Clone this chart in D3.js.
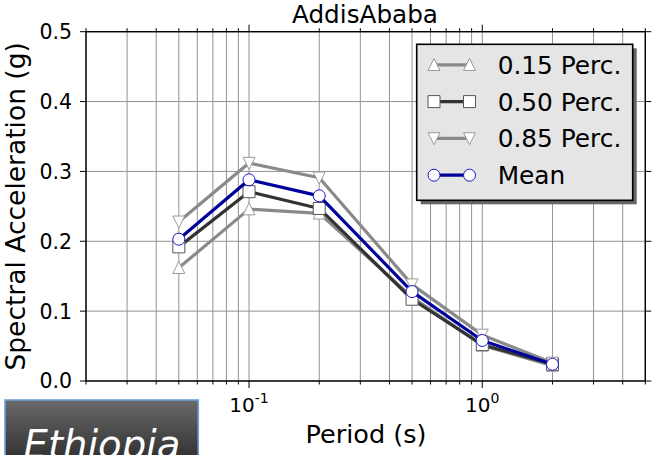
<!DOCTYPE html>
<html>
<head>
<meta charset="utf-8">
<script src="https://cdn.jsdelivr.net/npm/d3@7"></script>
<style>
  html, body { margin: 0; padding: 0; background: #fff; }
  svg { display: block; }
  text { font-family: "DejaVu Sans", sans-serif; }
</style>
</head>
<body>
<svg id="chart" width="652" height="455"></svg>
<script>
// ---- data ----
const title = "AddisAbaba";
const xLabel = "Period (s)";
const yLabel = "Spectral Acceleration (g)";
const periods = [0.05, 0.1, 0.2, 0.5, 1.0, 2.0];
const perc15 = [0.162, 0.246, 0.240, 0.120, 0.051, 0.022];
const perc50 = [0.192, 0.271, 0.247, 0.117, 0.052, 0.024];
const perc85 = [0.228, 0.312, 0.291, 0.138, 0.066, 0.026];
const meanVals = [0.203, 0.288, 0.265, 0.128, 0.058, 0.024];
const seriesNames = ["0.15 Perc.", "0.50 Perc.", "0.85 Perc.", "Mean"];
const yTicks = [0.0, 0.1, 0.2, 0.3, 0.4, 0.5];
const yTickLabels = ["0.0", "0.1", "0.2", "0.3", "0.4", "0.5"];
const xMajorTicks = [0.1, 1];
const xMajorExp = ["-1", "0"];
const xMinorTicks = [0.02, 0.03, 0.04, 0.05, 0.06, 0.07, 0.08, 0.09, 0.2, 0.3, 0.4, 0.5, 0.6, 0.7, 0.8, 0.9, 2, 3, 4, 5];
const badgeText = "Ethiopia";

// ---- layout ----
const svg = d3.select("#chart");
const L = 86, R = 645.3, T = 31.7, B = 381;
const x = d3.scaleLog().domain([0.02, 5]).range([L, R]);
const y = d3.scaleLinear().domain([0, 0.5]).range([B, T]);

const series = [
  { name: seriesNames[0], vals: perc15, line: "#8a8a8a", edge: "#9a9a9a", marker: "up" },
  { name: seriesNames[1], vals: perc50, line: "#333333", edge: "#555555", marker: "square" },
  { name: seriesNames[2], vals: perc85, line: "#8a8a8a", edge: "#9a9a9a", marker: "down" },
  { name: seriesNames[3], vals: meanVals, line: "#00009a", edge: "#1a1acc", marker: "circle" }
];

// gridlines
const gridColor = "#929292";
const g = svg.append("g");
g.selectAll("line.xg").data(xMajorTicks.concat(xMinorTicks)).enter().append("line")
  .attr("x1", d => x(d)).attr("x2", d => x(d)).attr("y1", T).attr("y2", B)
  .attr("stroke", gridColor).attr("stroke-width", 1);
g.selectAll("line.yg").data(yTicks).enter().append("line")
  .attr("x1", L).attr("x2", R).attr("y1", d => y(d)).attr("y2", d => y(d))
  .attr("stroke", gridColor).attr("stroke-width", 1);

// marker drawing
function markerPath(type, s) {
  const h = s / 2;
  if (type === "up") return `M0,${-h*1.05} L${h},${h*0.95} L${-h},${h*0.95} Z`;
  if (type === "down") return `M0,${h*1.05} L${h},${-h*0.95} L${-h},${-h*0.95} Z`;
  if (type === "square") return `M${-h},${-h} H${h} V${h} H${-h} Z`;
  return null;
}
function drawMarker(sel, type, cx, cy, size, edge) {
  if (type === "circle") {
    sel.append("circle").attr("cx", cx).attr("cy", cy).attr("r", size / 2)
      .attr("fill", "#fff").attr("stroke", edge).attr("stroke-width", 1);
  } else {
    sel.append("path").attr("d", markerPath(type, size))
      .attr("transform", `translate(${cx},${cy})`)
      .attr("fill", "#fff").attr("stroke", edge).attr("stroke-width", 1);
  }
}

// series
const plot = svg.append("g");
const line = d3.line().x(d => x(d[0])).y(d => y(d[1]));
series.forEach(s => {
  const pts = periods.map((p, i) => [p, s.vals[i]]);
  plot.append("path").attr("d", line(pts)).attr("fill", "none")
    .attr("stroke", s.line).attr("stroke-width", 3.2).attr("stroke-linejoin", "round");
  pts.forEach(p => drawMarker(plot, s.marker, x(p[0]), y(p[1]), 12, s.edge));
});

// frame
svg.append("rect").attr("x", L).attr("y", T).attr("width", R - L).attr("height", B - T)
  .attr("fill", "none").attr("stroke", "#000").attr("stroke-width", 1.4);

// ticks
const tk = svg.append("g").attr("stroke", "#000").attr("stroke-width", 1);
xMajorTicks.forEach(d => {
  tk.append("line").attr("x1", x(d)).attr("x2", x(d)).attr("y1", B).attr("y2", B + 7);
  tk.append("line").attr("x1", x(d)).attr("x2", x(d)).attr("y1", T).attr("y2", T - 7);
});
xMinorTicks.forEach(d => {
  tk.append("line").attr("x1", x(d)).attr("x2", x(d)).attr("y1", B).attr("y2", B + 3.5);
  tk.append("line").attr("x1", x(d)).attr("x2", x(d)).attr("y1", T).attr("y2", T - 3.5);
});
yTicks.forEach(d => {
  tk.append("line").attr("x1", L).attr("x2", L - 6).attr("y1", y(d)).attr("y2", y(d));
  tk.append("line").attr("x1", R).attr("x2", R + 6).attr("y1", y(d)).attr("y2", y(d));
});

// tick labels
svg.selectAll("text.yt").data(yTicks).enter().append("text")
  .attr("x", 72).attr("y", d => y(d)).attr("dy", "0.36em")
  .attr("text-anchor", "end").attr("font-size", 20.5).attr("fill", "#000")
  .text((d, i) => yTickLabels[i]);

xMajorTicks.forEach((d, i) => {
  const t = svg.append("text").attr("x", x(d)).attr("y", 412.3)
    .attr("text-anchor", "middle").attr("font-size", 20).attr("fill", "#000");
  t.append("tspan").text("10");
  t.append("tspan").attr("dy", -9.5).attr("font-size", 14).text(xMajorExp[i]);
});

// title & axis labels
svg.append("text").attr("x", 365).attr("y", 23.3).attr("text-anchor", "middle")
  .attr("font-size", 24.7).attr("fill", "#000").text(title);
svg.append("text").attr("x", 366).attr("y", 443).attr("text-anchor", "middle")
  .attr("font-size", 25.5).attr("fill", "#000").text(xLabel);
svg.append("text").attr("transform", `translate(25,${(T + B) / 2}) rotate(-90)`)
  .attr("text-anchor", "middle").attr("font-size", 26.5).attr("fill", "#000").text(yLabel);

// legend
const lg = svg.append("g");
const lx = 416.7, ly = 44.3, lw = 216, lh = 156;
lg.append("rect").attr("x", lx + 4).attr("y", ly + 4).attr("width", lw).attr("height", lh)
  .attr("fill", "#666");
lg.append("rect").attr("x", lx).attr("y", ly).attr("width", lw).attr("height", lh)
  .attr("fill", "#e5e5e5").attr("stroke", "#000").attr("stroke-width", 1.6);
series.forEach((s, i) => {
  const ry = 64.8 + i * 36.8;
  lg.append("line").attr("x1", 434).attr("x2", 469.5).attr("y1", ry).attr("y2", ry)
    .attr("stroke", s.line).attr("stroke-width", 3.2);
  drawMarker(lg, s.marker, 434, ry, 12, s.edge);
  drawMarker(lg, s.marker, 469.5, ry, 12, s.edge);
  lg.append("text").attr("x", 497.7).attr("y", ry).attr("dy", "0.36em")
    .attr("font-size", 24.8).attr("fill", "#000").text(s.name);
});

// badge
const defs = svg.append("defs");
const grad = defs.append("linearGradient").attr("id", "bg").attr("x1", 0).attr("x2", 0).attr("y1", 0).attr("y2", 1);
grad.append("stop").attr("offset", 0).attr("stop-color", "#6a6a6a");
grad.append("stop").attr("offset", 1).attr("stop-color", "#262626");
svg.append("rect").attr("x", 5).attr("y", 400).attr("width", 193.3).attr("height", 70)
  .attr("fill", "url(#bg)").attr("stroke", "#6fa0d8").attr("stroke-width", 1.6);
svg.append("text").attr("x", 102).attr("y", 457.5).attr("text-anchor", "middle")
  .attr("font-family", "'Liberation Sans', sans-serif")
  .attr("font-size", 38.5).attr("font-style", "italic").attr("fill", "#fff").text(badgeText);
</script>
</body>
</html>
